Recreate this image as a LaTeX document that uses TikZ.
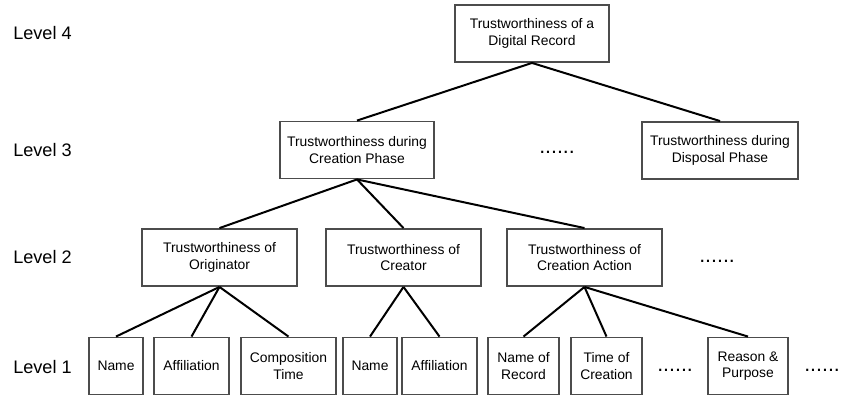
\documentclass[tikz,border=0pt]{standalone}
\usepackage{fontspec}
\setmainfont{Liberation Sans}
\usetikzlibrary{positioning}

\begin{document}
\begin{tikzpicture}[x=0.75pt, y=-0.75pt,
    box/.style={draw=black!70, line width=1.4pt, align=center, inner sep=2pt,
        minimum height=42.75pt, font=\fontsize{10.4}{12.5}\selectfont},
    wd/.style={minimum width={0.75pt*#1}},
    level/.style={anchor=west, inner sep=0pt, font=\fontsize{13.6}{16}\selectfont},
    more/.style={anchor=base west, inner sep=0pt, font=\fontsize{16}{18}\selectfont},
    edge/.style={line width=1.5pt}]
    \useasboundingbox (0,0) rectangle (841,398);

    % Level labels
    \node[level] (lev4) at (13,33) {Level 4};
    \node[level] (lev3) at (13,150) {Level 3};
    \node[level] (lev2) at (13,257) {Level 2};
    \node[level] (lev1) at (13,367) {Level 1};

    % Level 4
    \node[box, wd=154] (record) at (532,33.5) {Trustworthiness of a\\Digital Record};

    % Level 3
    \node[box, wd=154] (creation) at (357,150) {Trustworthiness during\\Creation Phase};
    \node[box, wd=156] (disposal) at (720,150.5) {Trustworthiness during\\Disposal Phase};
    \node[more] (dots3) at (539,154) {......};

    % Level 2
    \node[box, wd=155] (originator) at (219.5,257.5) {Trustworthiness of\\Originator};
    \node[box, wd=155] (creator) at (403.5,257.5) {Trustworthiness of\\Creator};
    \node[box, wd=155] (action) at (584.5,257.5) {Trustworthiness of\\Creation Action};
    \node[more] (dots2) at (699,263) {......};

    % Level 1
    \node[box, wd=54] (oname) at (116,366) {Name};
    \node[box, wd=75] (oaff) at (191.5,366) {Affiliation};
    \node[box, wd=95] (otime) at (288.5,366) {Composition\\Time};
    \node[box, wd=54] (cname) at (370,366) {Name};
    \node[box, wd=75] (caff) at (439.5,366) {Affiliation};
    \node[box, wd=71] (recname) at (523.5,366) {Name of\\Record};
    \node[box, wd=71] (rectime) at (606.5,366) {Time of\\Creation};
    \node[box, wd=80] (reason) at (748,366) {Reason \&\\Purpose};
    \node[more] (dots1a) at (657,371) {......};
    \node[more] (dots1b) at (804,372) {......};

    % Connections
    \draw[edge] (record.south) -- (creation.north);
    \draw[edge] (record.south) -- (disposal.north);
    \draw[edge] (creation.south) -- (originator.north);
    \draw[edge] (creation.south) -- (creator.north);
    \draw[edge] (creation.south) -- (action.north);
    \draw[edge] (originator.south) -- (oname.north);
    \draw[edge] (originator.south) -- (oaff.north);
    \draw[edge] (originator.south) -- (otime.north);
    \draw[edge] (creator.south) -- (cname.north);
    \draw[edge] (creator.south) -- (caff.north);
    \draw[edge] (action.south) -- (recname.north);
    \draw[edge] (action.south) -- (rectime.north);
    \draw[edge] (action.south) -- (reason.north);
\end{tikzpicture}
\end{document}
